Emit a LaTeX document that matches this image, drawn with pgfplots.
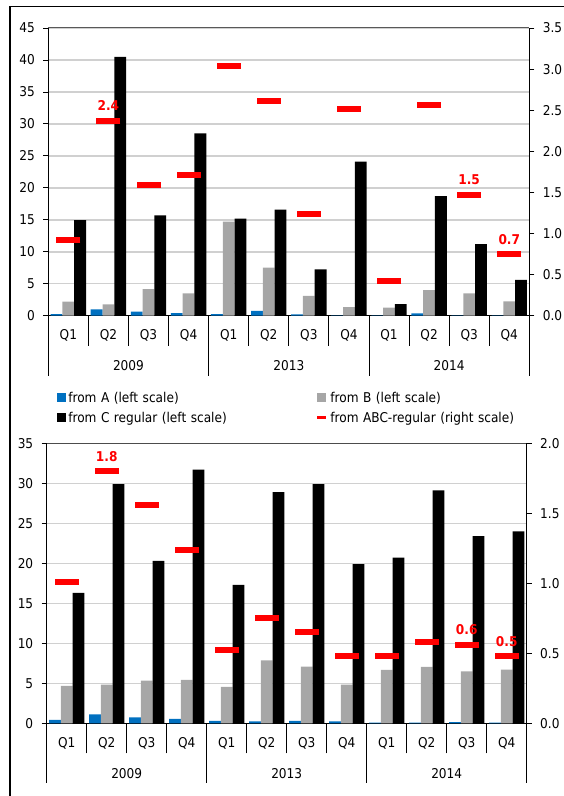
\documentclass[border=0pt]{standalone}
\usepackage{pgfplots}
\pgfplotsset{compat=1.18}
\usepackage{pgfplotstable}
\usepackage{fontspec}
\setmainfont{DejaVu Sans Condensed}
\definecolor{cA}{RGB}{0,112,192}
\definecolor{cB}{RGB}{166,166,166}
\definecolor{cGrid}{RGB}{208,208,208}

\pgfplotstableread{
x A B C R
1 0.26 2.19 14.95 0.92
2 1.00 1.77 40.5 2.37
3 0.65 4.15 15.7 1.59
4 0.40 3.50 28.5 1.71
5 0.25 14.7 15.2 3.04
6 0.75 7.50 16.6 2.61
7 0.20 3.10 7.25 1.24
8 0.05 1.35 24.1 2.51
9 0.05 1.25 1.8 0.42
10 0.35 4.00 18.7 2.56
11 0.05 3.50 11.2 1.47
12 0.05 2.24 5.6 0.75
}\toptab

\pgfplotstableread{
x A B C R
1 0.42 4.67 16.3 1.01
2 1.10 4.83 29.9 1.80
3 0.75 5.33 20.3 1.56
4 0.54 5.42 31.7 1.24
5 0.30 4.54 17.3 0.52
6 0.25 7.88 28.9 0.75
7 0.30 7.08 29.9 0.65
8 0.25 4.83 19.9 0.48
9 0.10 6.67 20.7 0.48
10 0.10 7.04 29.1 0.58
11 0.15 6.50 23.4 0.56
12 0.10 6.70 24.0 0.48
}\bottab

\newcommand{\fs}{\fontsize{13.5bp}{16bp}\selectfont}

\pgfplotsset{
  base/.style={
    scale only axis, xmin=0.5, xmax=12.5, clip=false, ymin=0,
    tick align=outside, major tick length=5bp, minor tick length=30bp,
    tick label style={font=\fs},
    /pgf/number format/assume math mode=true,
  },
  leftax/.style={base,
    axis y line*=left, axis x line*=bottom,
    axis line style={black, line width=1.2bp},
    xtick={1,2,3,4,5,6,7,8,9,10,11,12},
    xticklabels={Q1,Q2,Q3,Q4,Q1,Q2,Q3,Q4,Q1,Q2,Q3,Q4},
    minor xtick={0.5,1.5,2.5,3.5,4.5,5.5,6.5,7.5,8.5,9.5,10.5,11.5,12.5},
    major x tick style={draw=none},
    minor x tick style={black, line width=0.8bp},
    xticklabel style={anchor=base, inner sep=0pt, yshift=-19bp},
    yticklabel style={anchor=east, inner sep=0pt, xshift=-8.3bp},
    ytick style={black, line width=0.8bp},
    ymajorgrids, major grid style={cGrid, line width=1.5bp},
    ybar=0pt, bar width=11.8bp,
  },
  rightax/.style={base,
    axis y line*=right, axis x line=none,
    axis line style={black, line width=1.2bp},
    ytick style={black, line width=0.8bp},
    yticklabel style={anchor=west, inner sep=0pt, xshift=8.3bp,
      /pgf/number format/.cd, fixed, fixed zerofill, precision=1},
  },
  dash/.style={only marks, mark=-, mark size=12bp, mark options={red, line width=6bp}},
  lab/.style={draw=none, mark=none, point meta=explicit symbolic, nodes near coords,
    every node near coord/.style={anchor=base, yshift=10bp, inner sep=0pt, font=\fs\bfseries, text=red}},
}

\begin{document}
\begin{tikzpicture}[font=\fs]
\useasboundingbox (0,0) rectangle (564bp,796bp);
\draw[black, line width=2bp] (10.3bp,0) -- (10.3bp,789.3bp);
\draw[black, line width=1.5bp] (9.3bp,789.3bp) -- (564bp,789.3bp);

% ---------- top panel ----------
\begin{axis}[leftax, at={(48.3bp,480.3bp)}, anchor=south west,
  width=481bp, height=287.7bp, ymax=45, ytick={0,5,10,15,20,25,30,35,40,45},
  legend columns=2, legend cell align=left,
  legend style={at={(0,0)}, anchor=north west, xshift=9bp, yshift=-76.5bp,
    draw=none, fill=none, inner sep=0pt, outer sep=0pt, column sep=0pt, row sep=6.5bp,
    font=\fs,
    nodes={inner xsep=2.3bp, inner ysep=0pt, text height=10bp, text depth=3.5bp, text width=245bp, align=left}},
  ]
\addplot[fill=cA, draw=none, legend image code/.code={\fill[cA] (0,-3.25bp) rectangle (8.7bp,5.75bp);}] table[x=x,y=A] {\toptab};
\addlegendentry{from A (left scale)}
\addplot[fill=cB, draw=none, legend image code/.code={\fill[cB] (0,-3.25bp) rectangle (8.7bp,5.75bp);}] table[x=x,y=B] {\toptab};
\addlegendentry{from B (left scale)}
\addplot[fill=black, draw=none, legend image code/.code={\fill[black] (0,-3.25bp) rectangle (8.7bp,5.75bp);}] table[x=x,y=C] {\toptab};
\addlegendentry{from C regular (left scale)}
\addlegendimage{legend image code/.code={\draw[red, line width=3.5bp] (0,1.25bp) -- (9bp,1.25bp);}}
\addlegendentry{from ABC-regular (right scale)}
\draw[gray!70!black, line width=1bp] (rel axis cs:0,1) -- (rel axis cs:1,1);
\draw[black, line width=0.8bp] (axis cs:0.5,0) -- ([yshift=-60bp]axis cs:0.5,0);
\draw[black, line width=0.8bp] (axis cs:4.5,0) -- ([yshift=-60bp]axis cs:4.5,0);
\draw[black, line width=0.8bp] (axis cs:8.5,0) -- ([yshift=-60bp]axis cs:8.5,0);
\draw[black, line width=0.8bp] (axis cs:12.5,0) -- ([yshift=-60bp]axis cs:12.5,0);
\node[anchor=base] at (axis cs:2.5,0) [yshift=-54.7bp] {2009};
\node[anchor=base] at (axis cs:6.5,0) [yshift=-54.7bp] {2013};
\node[anchor=base] at (axis cs:10.5,0) [yshift=-54.7bp] {2014};
\end{axis}
\begin{axis}[rightax, at={(48.3bp,480.3bp)}, anchor=south west,
  width=481bp, height=287.7bp, ymax=3.5, ytick={0,0.5,1,1.5,2,2.5,3,3.5}]
\addplot[dash] table[x=x,y=R] {\toptab};
\addplot[lab] coordinates {(2,2.37)[2.4] (11,1.47)[1.5] (12,0.75)[0.7]};
\end{axis}

% ---------- bottom panel ----------
\begin{axis}[leftax, at={(46.7bp,72.7bp)}, anchor=south west,
  width=480bp, height=280bp, ymax=35, ytick={0,5,10,15,20,25,30,35}]
\addplot[fill=cA, draw=none] table[x=x,y=A] {\bottab};
\addplot[fill=cB, draw=none] table[x=x,y=B] {\bottab};
\addplot[fill=black, draw=none] table[x=x,y=C] {\bottab};
\draw[gray!60!black, line width=1.3bp] (rel axis cs:0,1) -- (rel axis cs:1,1);
\draw[black, line width=0.8bp] (axis cs:0.5,0) -- ([yshift=-60bp]axis cs:0.5,0);
\draw[black, line width=0.8bp] (axis cs:4.5,0) -- ([yshift=-60bp]axis cs:4.5,0);
\draw[black, line width=0.8bp] (axis cs:8.5,0) -- ([yshift=-60bp]axis cs:8.5,0);
\draw[black, line width=0.8bp] (axis cs:12.5,0) -- ([yshift=-60bp]axis cs:12.5,0);
\node[anchor=base] at (axis cs:2.5,0) [yshift=-54.7bp] {2009};
\node[anchor=base] at (axis cs:6.5,0) [yshift=-54.7bp] {2013};
\node[anchor=base] at (axis cs:10.5,0) [yshift=-54.7bp] {2014};
\end{axis}
\begin{axis}[rightax, at={(46.7bp,72.7bp)}, anchor=south west,
  width=480bp, height=280bp, ymax=2, ytick={0,0.5,1,1.5,2}]
\addplot[dash] table[x=x,y=R] {\bottab};
\addplot[lab] coordinates {(2,1.80)[1.8] (11,0.56)[0.6] (12,0.48)[0.5]};
\end{axis}
\end{tikzpicture}
\end{document}
